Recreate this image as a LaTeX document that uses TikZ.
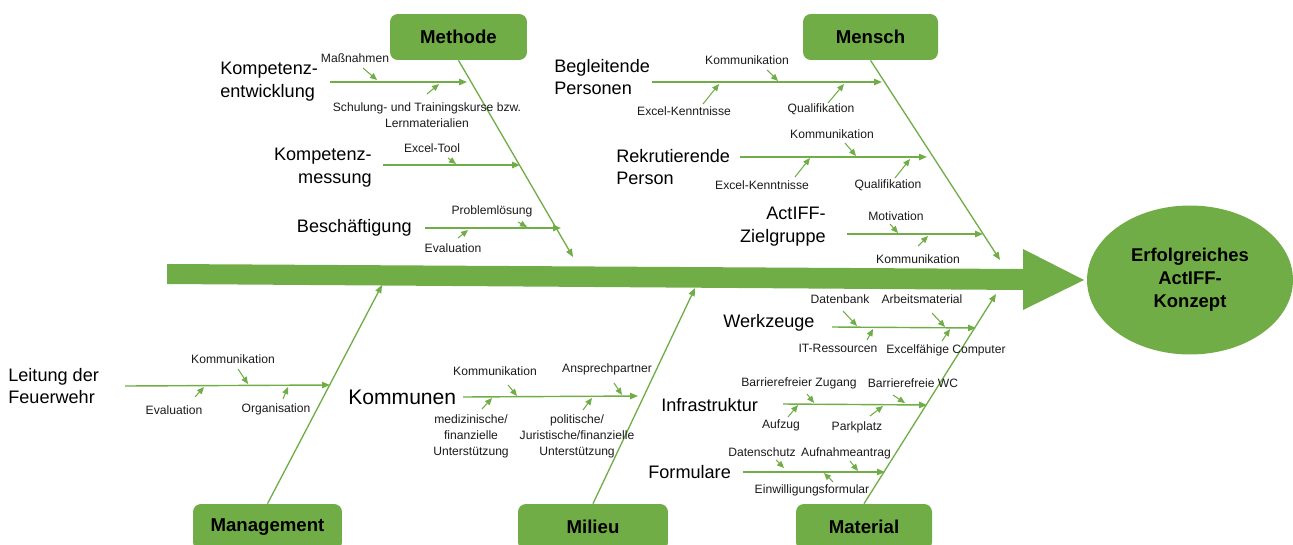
\documentclass[tikz,border=0pt]{standalone}
\usepackage{fontspec}
\setmainfont{Liberation Sans}
\usetikzlibrary{arrows.meta,shapes.geometric}
\definecolor{fishgreen}{HTML}{70AD47}
\definecolor{textdark}{HTML}{1A1A1A}

% a twig: named start and end points, then the arrow between them
\newcommand\twig[3]{%
  \coordinate (#1-a) at #2;
  \coordinate (#1-b) at #3;
  \draw[twigline] (#1-a) -- (#1-b);}
% a sub-bone: the horizontal cause line
\newcommand\subbone[3]{%
  \coordinate (#1-a) at #2;
  \coordinate (#1-b) at #3;
  \draw[subline] (#1-a) -- (#1-b);}

\begin{document}
\begin{tikzpicture}[x=0.02cm,y=-0.02cm,
  cat/.style={rectangle, rounded corners=4.5pt, fill=fishgreen, draw=none,
    minimum height=0.92cm, inner sep=0pt,
    font=\fontsize{10.6}{13}\selectfont\bfseries},
  goal/.style={ellipse, fill=fishgreen, draw=none, inner sep=0pt,
    minimum width=4.12cm, minimum height=2.98cm, align=center,
    font=\fontsize{10.5}{13}\selectfont\bfseries},
  big/.style={inner sep=0pt, font=\fontsize{10.3}{13}\selectfont, text=black},
  small/.style={inner sep=0pt, align=center,
    font=\fontsize{6.9}{9.1}\selectfont, text=textdark},
  bone/.style={draw=fishgreen, line width=0.75pt,
    -{Triangle[length=4.5pt,width=3.6pt]}},
  subline/.style={draw=fishgreen, line width=0.8pt,
    -{Triangle[length=4.5pt,width=3.6pt]}},
  twigline/.style={draw=fishgreen, line width=0.6pt,
    -{Triangle[length=4pt,width=3.4pt]}}
]
\useasboundingbox (0,0) rectangle (1293,544);
\clip (0,0) rectangle (1293,544);

% spine with its arrow head
\fill[fishgreen] (167,264) -- (1023,269) -- (1023,249) -- (1084,280)
  -- (1023,310) -- (1023,290) -- (167,284) -- cycle;

% effect
\node[goal] (goal) at (1190,280) {Erfolgreiches\\ActIFF-\\Konzept};

% categories
\node[cat, minimum width=2.74cm] (methode) at (458.5,37) {Methode};
\node[cat, minimum width=2.70cm] (mensch) at (870.5,37) {Mensch};
\node[cat, minimum width=2.98cm] (management) at (267.5,527) {Management};
\node[cat, minimum width=3.00cm] (milieu) at (593,527) {Milieu};
\node[cat, minimum width=2.72cm] (material) at (864,527) {Material};

% main bones
\coordinate (methode-tip) at (573,257);
\coordinate (mensch-tip) at (1000,260);
\coordinate (management-tip) at (382,285);
\coordinate (milieu-tip) at (695,288);
\coordinate (material-tip) at (996,294);
\draw[bone] (methode.south) -- (methode-tip);
\draw[bone] (mensch.south) -- (mensch-tip);
\draw[bone] (management.north) -- (management-tip);
\draw[bone] (milieu.north) -- (milieu-tip);
\draw[bone] (material.north) -- (material-tip);

% ---------- Methode ----------
\node[big, anchor=west, align=left] (kent) at (220,82) {Kompetenz-\\entwicklung};
\subbone{kent}{(330,82)}{(467,82)}
\node[small] (massn) at (355,58) {Maßnahmen};
\twig{massn}{(363,68)}{(377,80)}
\node[small] (schul) at (427,115) {Schulung- und Trainingskurse bzw.\\Lernmaterialien};
\twig{schul}{(427,94)}{(439,84)}

\node[big, anchor=east, align=right] (kmess) at (372,168) {Kompetenz-\\messung};
\subbone{kmess}{(383,165)}{(520,165)}
\node[small] (exceltool) at (432,148) {Excel-Tool};
\twig{exceltool}{(448,158)}{(456,164)}

\node[big, anchor=east] (besch) at (412,228) {Beschäftigung};
\subbone{besch}{(425,228)}{(561,228)}
\node[small] (probl) at (492,211) {Problemlösung};
\twig{probl}{(518,222)}{(527,227)}
\node[small] (evalm) at (453,248) {Evaluation};
\twig{evalm}{(458,238)}{(468,230)}

% ---------- Mensch ----------
\node[big, anchor=west, align=left] (begl) at (554,77) {Begleitende\\Personen};
\subbone{begl}{(652,82)}{(882,82)}
\node[small] (kommbegl) at (747,60) {Kommunikation};
\twig{kommbegl}{(767,70)}{(778,81)}
\node[small] (excelbegl) at (684,111) {Excel-Kenntnisse};
\twig{excelbegl}{(703,104)}{(719,84)}
\node[small] (qualbegl) at (821,109) {Qualifikation};
\twig{qualbegl}{(828,103)}{(844,84)}

\node[big, anchor=west, align=left] (rekr) at (616,167) {Rekrutierende\\Person};
\subbone{rekr}{(740,157)}{(927,157)}
\node[small] (kommrekr) at (832,134) {Kommunikation};
\twig{kommrekr}{(845,143)}{(856,156)}
\node[small] (excelrekr) at (762,185) {Excel-Kenntnisse};
\twig{excelrekr}{(795,177)}{(810,158)}
\node[small] (qualrekr) at (888,185) {Qualifikation};
\twig{qualrekr}{(895,178)}{(910,159)}

\node[big, anchor=east, align=right] (ziel) at (826,227) {ActIFF-\\Zielgruppe};
\subbone{ziel}{(847,234)}{(983,234)}
\node[small] (motiv) at (896,216) {Motivation};
\twig{motiv}{(890,224)}{(898,233)}
\node[small] (kommziel) at (918,259) {Kommunikation};
\twig{kommziel}{(918,246)}{(928,236)}

% ---------- Management ----------
\node[big, anchor=west, align=left] (leit) at (8,386) {Leitung der\\Feuerwehr};
\subbone{leit}{(125,386)}{(330,385)}
\node[small] (kommleit) at (233,359) {Kommunikation};
\twig{kommleit}{(238,369)}{(248,384)}
\node[small] (evalleit) at (174,410) {Evaluation};
\twig{evalleit}{(195,397)}{(204,387)}
\node[small] (orga) at (276,409) {Organisation};
\twig{orga}{(283,399)}{(288,387)}

% ---------- Milieu ----------
\node[big, anchor=west, font=\fontsize{12}{14}\selectfont] (komm) at (348,397) {Kommunen};
\subbone{komm}{(463,397)}{(638,396)}
\node[small] (kommkomm) at (495,371) {Kommunikation};
\twig{kommkomm}{(508,385)}{(517,396)}
\node[small] (ansp) at (607,369) {Ansprechpartner};
\twig{ansp}{(614,383)}{(622,395)}
\node[small] (medi) at (471,436) {medizinische/\\finanzielle\\Unterstützung};
\twig{medi}{(482,409)}{(492,398)}
\node[small] (poli) at (577,436) {politische/\\Juristische/finanzielle\\Unterstützung};
\twig{poli}{(583,410)}{(592,398)}

% ---------- Material ----------
\node[big, anchor=west] (werk) at (723,323) {Werkzeuge};
\subbone{werk}{(832,327)}{(976,328)}
\node[small] (daten) at (840,299) {Datenbank};
\twig{daten}{(843,311)}{(857,326)}
\node[small] (arbeit) at (922,299) {Arbeitsmaterial};
\twig{arbeit}{(932,313)}{(945,327)}
\node[small] (itres) at (838,348) {IT-Ressourcen};
\twig{itres}{(867,340)}{(873,329)}
\node[small] (excomp) at (946,350) {Excelfähige Computer};
\twig{excomp}{(942,341)}{(950,329)}

\node[big, anchor=west] (infra) at (661,405) {Infrastruktur};
\subbone{infra}{(783,404)}{(927,405)}
\node[small] (zugang) at (799,383) {Barrierefreier Zugang};
\twig{zugang}{(807,394)}{(814,403)}
\node[small] (wc) at (913,383) {Barrierefreie WC};
\twig{wc}{(893,395)}{(905,403)}
\node[small] (aufzug) at (781,425) {Aufzug};
\twig{aufzug}{(788,417)}{(798,405)}
\node[small] (park) at (857,427) {Parkplatz};
\twig{park}{(870,416)}{(883,406)}

\node[big, anchor=west] (form) at (648,472) {Formulare};
\subbone{form}{(743,472)}{(885,472)}
\node[small] (dschutz) at (762,452) {Datenschutz};
\twig{dschutz}{(776,460)}{(784,468)}
\node[small] (aufn) at (846,453) {Aufnahmeantrag};
\twig{aufn}{(850,461)}{(858,471)}
\node[small] (einw) at (812,490) {Einwilligungsformular};
\twig{einw}{(833,482)}{(824,473)}
\end{tikzpicture}
\end{document}
